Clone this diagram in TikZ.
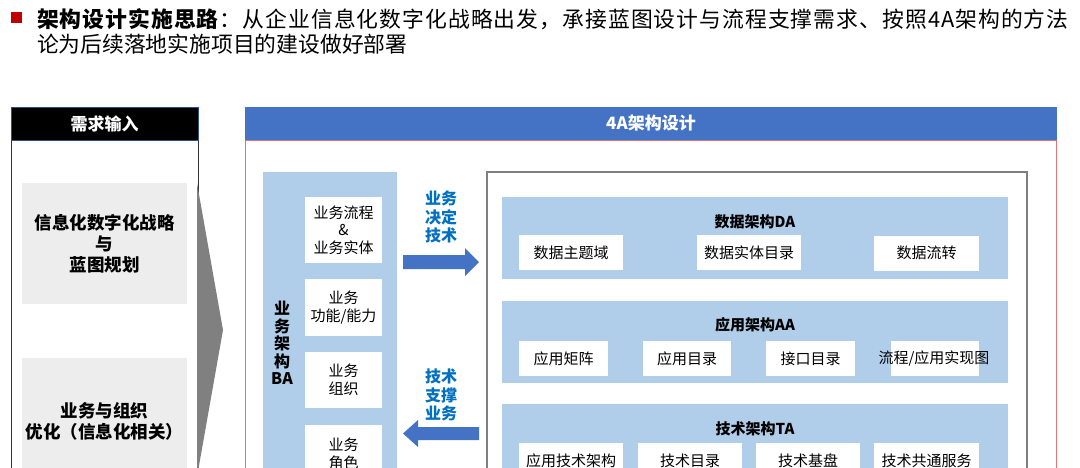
\documentclass[tikz,border=0pt]{standalone}
\usepackage{fontspec}
\setmainfont{Noto Sans CJK SC}
\definecolor{hdrblue}{HTML}{4472C4}
\definecolor{lightblue}{HTML}{B0CDEA}
\definecolor{boxgray}{HTML}{EDEDED}
\definecolor{chevgray}{HTML}{808080}
\definecolor{txtblue}{HTML}{0070C0}
\definecolor{framered}{HTML}{E57373}
\definecolor{bulletred}{HTML}{C00000}
\definecolor{innergray}{HTML}{7F7F7F}
\newcommand\myfs[2]{\fontsize{#1}{#2}\selectfont}
\begin{document}
\begin{tikzpicture}[x=1pt,y=-1pt,
  every node/.style={inner sep=0pt, outer sep=0pt},
  hdrbox/.style={minimum height=33, text=white, font=\myfs{17}{20}\bfseries},
  graybox/.style={fill=boxgray, minimum width=165, align=center, font=\myfs{17.5}{21}\bfseries},
  panel/.style={fill=lightblue},
  wbox/.style={fill=white, align=center, font=\myfs{15}{17.5}},
  ptitle/.style={font=\myfs{15}{18}\bfseries},
  bluelbl/.style={text=txtblue, align=center, font=\myfs{16}{18.5}\bfseries},
  blockarrow/.style={fill=hdrblue}
]
\useasboundingbox (0,0) rectangle (1080,467);
\clip (0,0) rectangle (1080,467);

% title
\node[fill=bulletred, minimum size=11] (bullet) at (16.5,17) {};
\node[anchor=west, font=\myfs{21.8}{25}\addfontfeatures{LetterSpace=4.8}] (t1) at (37,19) {\textbf{架构设计实施思路}：从企业信息化数字化战略出发，承接蓝图设计与流程支撑需求、按照4A架构的方法};
\node[anchor=west, font=\myfs{21.8}{25}] (t2) at (37,44) {论为后续落地实施项目的建设做好部署};

% left panel
\node[draw=black!80, line width=0.8pt, fill=white, minimum width=187, minimum height=360, anchor=north west] (lbody) at (11,140) {};
\node[hdrbox, fill=black, draw=hdrblue!70!black, line width=0.5pt, minimum width=187] (lhdr) at (104.5,123.5) {需求输入};
\node[graybox, minimum height=121] (g1) at (104.5,243.5) {信息化数字化战略\\与\\蓝图规划};
\node[graybox, minimum height=126] (g2) at (104.5,421) {业务与组织\\优化（信息化相关）};
\fill[chevgray] (197,183) -- (223,330) -- (197,477) -- cycle;

% 4A frame
\node[draw=framered, line width=0.8pt, minimum width=811, minimum height=360, anchor=north west] (frame) at (245.5,140) {};
\node[hdrbox, fill=hdrblue, minimum width=812] (ahdr) at (651,123.5) {4A架构设计};

% BA
\node[panel, minimum width=134, minimum height=330, anchor=north west] (ba) at (263,172) {};
\node[align=center, font=\myfs{16}{17.5}\bfseries] (balbl) at (282,343) {业\\务\\架\\构\\BA};
\node[wbox, minimum width=77, minimum height=66] (b1) at (343.5,230) {业务流程\\\&\\业务实体};
\node[wbox, minimum width=77, minimum height=57] (b2) at (343.5,307.5) {业务\\功能/能力};
\node[wbox, minimum width=77, minimum height=56] (b3) at (343.5,380) {业务\\组织};
\node[wbox, minimum width=77, minimum height=58] (b4) at (343.5,454) {业务\\角色};

% arrows
\fill[blockarrow] (403,255) -- (465,255) -- (465,248) -- (479,262) -- (465,276) -- (465,269) -- (403,269) -- cycle;
\node[bluelbl] (l1) at (441,217) {业务\\决定\\技术};
\fill[blockarrow] (479,427) -- (418,427) -- (418,420) -- (403,433.5) -- (418,447) -- (418,440) -- (479,440) -- cycle;
\node[bluelbl] (l2) at (441,395) {技术\\支撑\\业务};

% inner box
\node[draw=innergray, line width=1.2pt, minimum width=540, minimum height=340, anchor=north west] (inner) at (487,172) {};

% DA
\node[panel, minimum width=506, minimum height=82] (da) at (755,238) {};
\node[ptitle] (dat) at (755,222) {数据架构DA};
\node[wbox, minimum width=104, minimum height=35] (d1) at (571,252.5) {数据主题域};
\node[wbox, minimum width=104, minimum height=35] (d2) at (749,252.5) {数据实体目录};
\node[wbox, minimum width=105, minimum height=35] (d3) at (926.5,253) {数据流转};

% AA
\node[panel, minimum width=506, minimum height=82] (aa) at (755,342) {};
\node[ptitle] (aat) at (755,325) {应用架构AA};
\node[wbox, minimum width=89, minimum height=35] (a1) at (563.5,358.5) {应用矩阵};
\node[wbox, minimum width=88, minimum height=35] (a2) at (687,358.5) {应用目录};
\node[wbox, minimum width=89, minimum height=35] (a3) at (810.5,358.5) {接口目录};
\node[wbox, minimum width=88, minimum height=35] (a4) at (935,358.5) {};
\node[font=\myfs{15}{17.5}] (a4t) at (934,358.5) {流程/应用实现图};

% TA
\node[panel, minimum width=506, minimum height=96, anchor=north] (ta) at (755,404) {};
\node[ptitle] (tat) at (755,429) {技术架构TA};
\node[wbox, minimum width=104, minimum height=35] (c1) at (571,460.5) {应用技术架构};
\node[wbox, minimum width=104, minimum height=35] (c2) at (690,460.5) {技术目录};
\node[wbox, minimum width=104, minimum height=35] (c3) at (808,460.5) {技术基盘};
\node[wbox, minimum width=105, minimum height=35] (c4) at (926.5,460.5) {技术共通服务};
\end{tikzpicture}
\end{document}
